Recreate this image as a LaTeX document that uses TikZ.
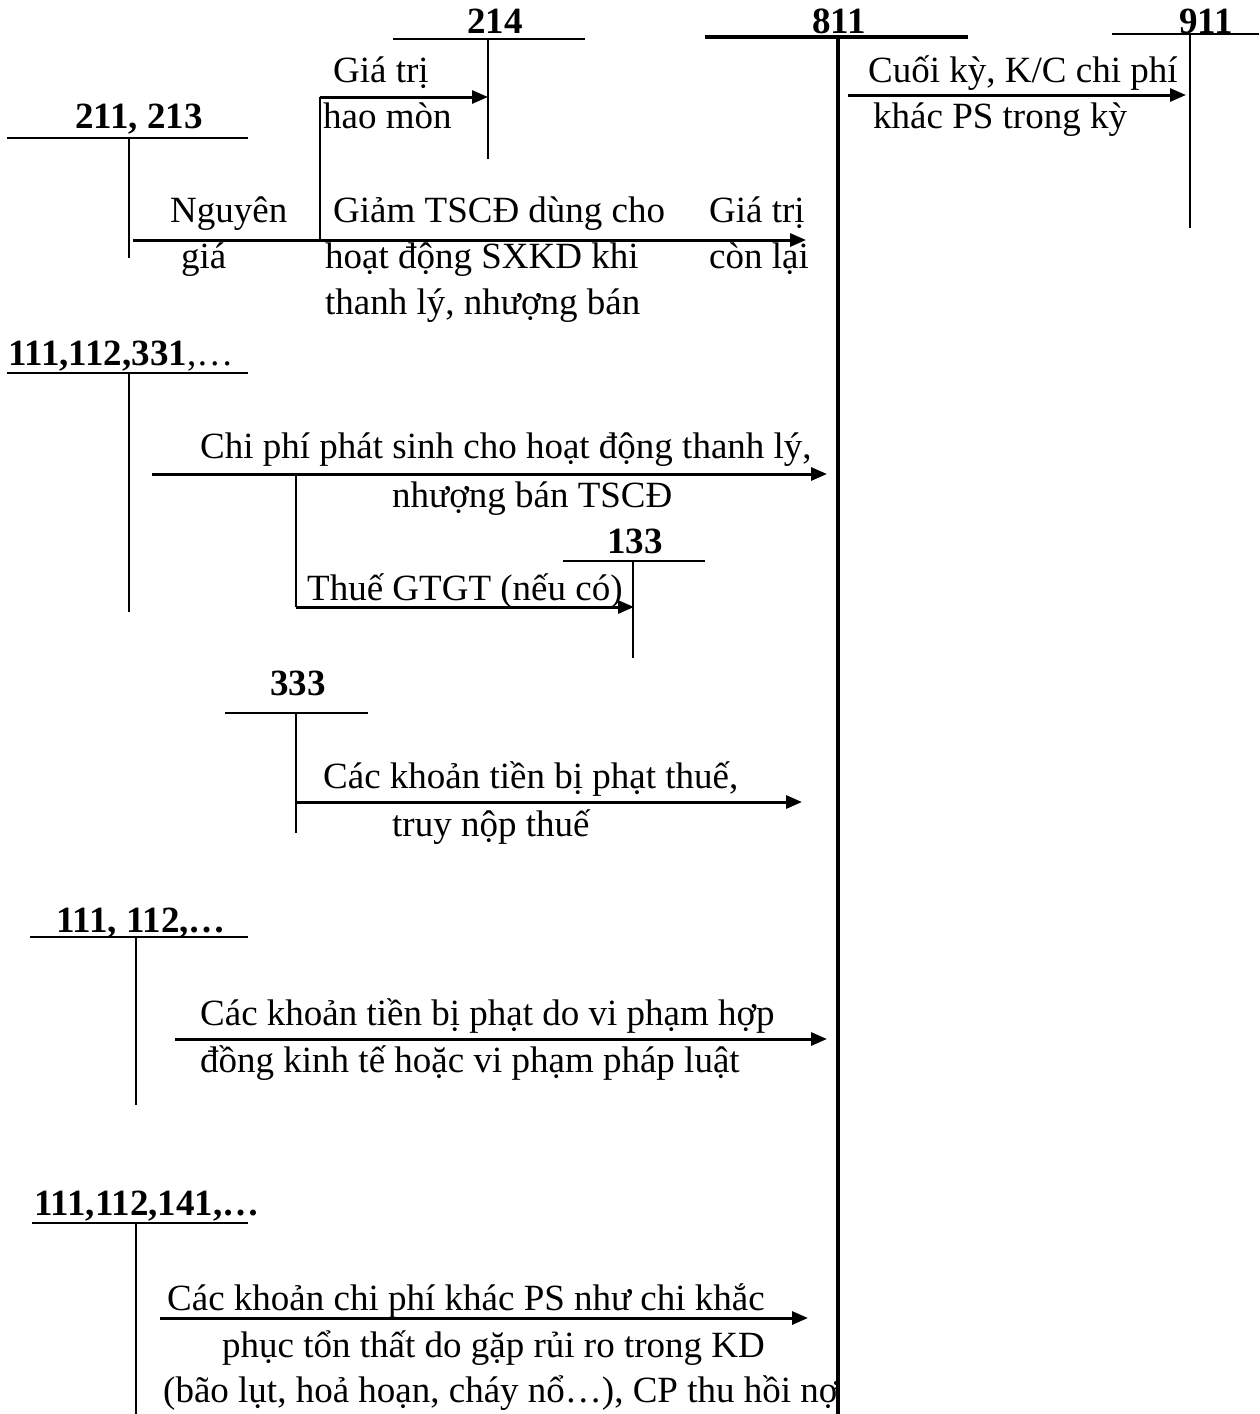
\documentclass[tikz,border=0pt]{standalone}
\usepackage{fontspec}
\setmainfont{Liberation Serif}
\usetikzlibrary{arrows.meta}
\tikzset{
  tline/.style={line width=1.8pt},
  tthick/.style={line width=4.2pt},
  arr/.style={line width=3pt,-{Triangle[length=16pt,width=13pt]}},
  lbl/.style={inner sep=0pt,anchor=base west,font=\fontsize{37}{42}\selectfont},
  acct/.style={inner sep=0pt,anchor=base,font=\fontsize{37}{42}\selectfont\bfseries},
}
\begin{document}
\begin{tikzpicture}[x=1pt,y=-1pt]
\useasboundingbox (0,0) rectangle (1259,1414);
% ---------- T-accounts ----------
% 214
\coordinate (a214l) at (393,39); \coordinate (a214r) at (585,39);
\coordinate (a214t) at (488,39); \coordinate (a214b) at (488,159);
\draw[tline] (a214l) -- (a214r); \draw[tline] (a214t) -- (a214b);
\node[acct] (n214) at (495,33) {214};
% 811
\coordinate (a811l) at (705,37); \coordinate (a811r) at (968,37);
\coordinate (a811t) at (838,37); \coordinate (a811b) at (838,1414);
\draw[tthick] (a811l) -- (a811r); \draw[tthick] (a811t) -- (a811b);
\node[acct] (n811) at (839,33) {811};
% 911
\coordinate (a911l) at (1112,34); \coordinate (a911r) at (1259,34);
\coordinate (a911t) at (1190,34); \coordinate (a911b) at (1190,228);
\draw[tline] (a911l) -- (a911r); \draw[tline] (a911t) -- (a911b);
\node[acct] (n911) at (1206,33) {911};
% 211,213
\coordinate (a211l) at (7,138); \coordinate (a211r) at (248,138);
\coordinate (a211t) at (129,138); \coordinate (a211b) at (129,258);
\draw[tline] (a211l) -- (a211r); \draw[tline] (a211t) -- (a211b);
\node[acct] (n211) at (139,128) {211, 213};
% 111,112,331
\coordinate (a331l) at (7,373); \coordinate (a331r) at (248,373);
\coordinate (a331t) at (129,373); \coordinate (a331b) at (129,612);
\draw[tline] (a331l) -- (a331r); \draw[tline] (a331t) -- (a331b);
\node[lbl] (n331) at (8,365) {\textbf{111,112,331},\ldots};
% 133
\coordinate (a133l) at (563,561); \coordinate (a133r) at (705,561);
\coordinate (a133t) at (633,561); \coordinate (a133b) at (633,658);
\draw[tline] (a133l) -- (a133r); \draw[tline] (a133t) -- (a133b);
\node[acct] (n133) at (635,553) {133};
% 333
\coordinate (a333l) at (225,713); \coordinate (a333r) at (368,713);
\coordinate (a333t) at (296,713); \coordinate (a333b) at (296,833);
\draw[tline] (a333l) -- (a333r); \draw[tline] (a333t) -- (a333b);
\node[acct] (n333) at (298,695) {333};
% 111,112,...
\coordinate (a112l) at (30,937); \coordinate (a112r) at (248,937);
\coordinate (a112t) at (136,937); \coordinate (a112b) at (136,1105);
\draw[tline] (a112l) -- (a112r); \draw[tline] (a112t) -- (a112b);
\node[acct] (n112) at (141,932) {111, 112,\ldots};
% 111,112,141,...
\coordinate (a141l) at (32,1223); \coordinate (a141r) at (248,1223);
\coordinate (a141t) at (136,1223); \coordinate (a141b) at (136,1414);
\draw[line width=2.8pt] (a141l) -- (a141r); \draw[tline] (a141t) -- (a141b);
\node[acct] (n141) at (147,1215) {111,112,141,\ldots};
% ---------- arrows ----------
\coordinate (s1) at (133,240); \coordinate (e1) at (806,240);
\draw[arr] (s1) -- (e1);
\coordinate (b1) at (320,240); \coordinate (b1t) at (320,97); \coordinate (e2) at (488,97);
\draw[tline] (b1) -- (b1t);
\draw[arr] (b1t) -- (e2);
\node[lbl] (t1) at (333,82) {Giá trị};
\node[lbl] (t2) at (323,128) {hao mòn};
\node[lbl] (t3) at (170,222) {Nguyên};
\node[lbl] (t4) at (181,268) {giá};
\node[lbl] (t5) at (333,222) {Giảm TSCĐ dùng cho};
\node[lbl] (t6) at (325,268) {hoạt động SXKD khi};
\node[lbl] (t7) at (325,314) {thanh lý, nhượng bán};
\node[lbl] (t8) at (709,222) {Giá trị};
\node[lbl] (t9) at (709,268) {còn lại};
% 811 -> 911
\coordinate (s3) at (848,95); \coordinate (e3) at (1186,95);
\draw[arr] (s3) -- (e3);
\node[lbl] (t10) at (868,82) {Cuối kỳ, K/C chi phí};
\node[lbl] (t11) at (873,128) {khác PS trong kỳ};
% 111,112,331 -> 811
\coordinate (s4) at (152,474); \coordinate (e4) at (827,474);
\draw[arr] (s4) -- (e4);
\node[lbl] (t12) at (200,458) {Chi phí phát sinh cho hoạt động thanh lý,};
\node[lbl] (t13) at (392,507) {nhượng bán TSCĐ};
\coordinate (b4) at (296,474); \coordinate (b4b) at (296,607); \coordinate (e5) at (634,607);
\draw[tline] (b4) -- (b4b);
\draw[arr] (b4b) -- (e5);
\node[lbl] (t14) at (307,600) {Thuế GTGT (nếu có)};
% 333 -> 811
\coordinate (s6) at (296,802); \coordinate (e6) at (802,802);
\draw[arr] (s6) -- (e6);
\node[lbl] (t15) at (323,788) {Các khoản tiền bị phạt thuế,};
\node[lbl] (t16) at (392,836) {truy nộp thuế};
% 111,112 -> 811
\coordinate (s7) at (175,1039); \coordinate (e7) at (827,1039);
\draw[arr] (s7) -- (e7);
\node[lbl] (t17) at (200,1025) {Các khoản tiền bị phạt do vi phạm hợp};
\node[lbl] (t18) at (200,1072) {đồng kinh tế hoặc vi phạm pháp luật};
% 111,112,141 -> 811
\coordinate (s8) at (160,1318); \coordinate (e8) at (808,1318);
\draw[arr] (s8) -- (e8);
\node[lbl] (t19) at (167,1310) {Các khoản chi phí khác PS như chi khắc};
\node[lbl] (t20) at (222,1357) {phục tổn thất do gặp rủi ro trong KD};
\node[lbl] (t21) at (163,1402) {(bão lụt, hoả hoạn, cháy nổ\ldots), CP thu hồi nợ};
\end{tikzpicture}
\end{document}
